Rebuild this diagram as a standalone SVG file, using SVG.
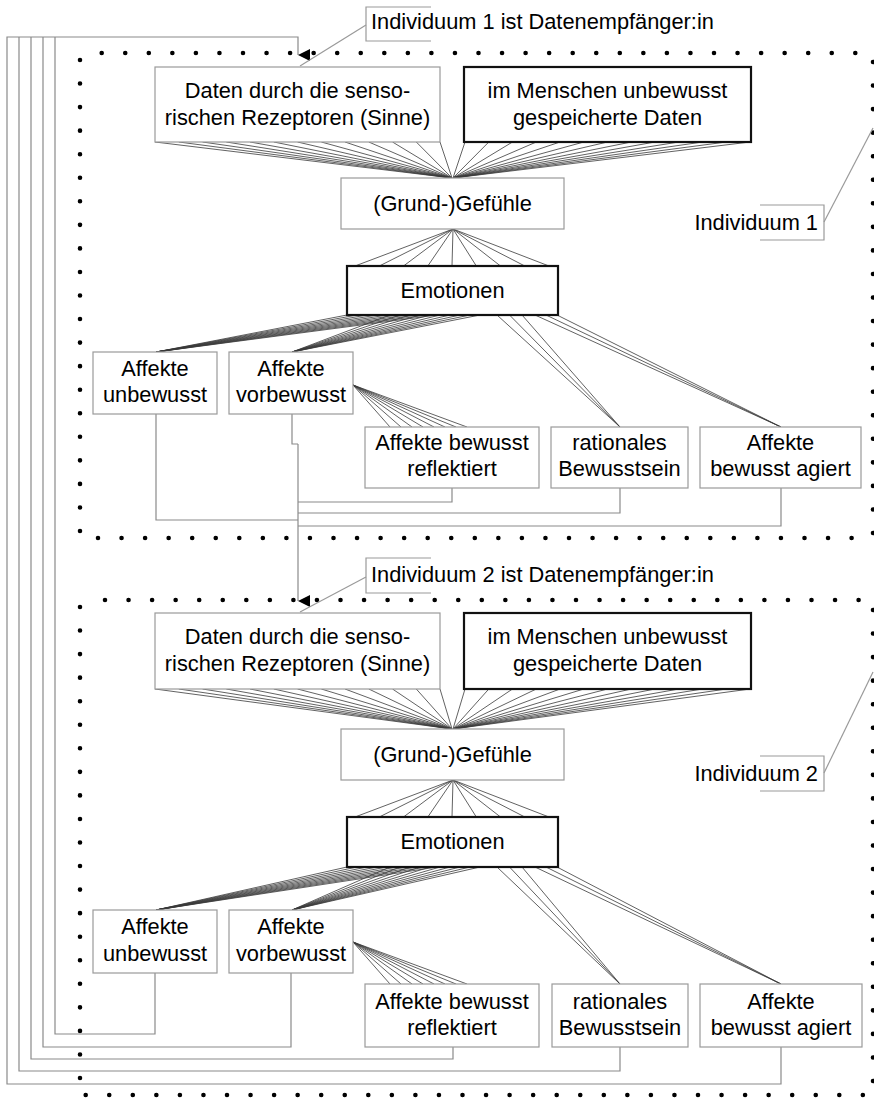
<svg xmlns="http://www.w3.org/2000/svg" width="874" height="1099" viewBox="0 0 874 1099">
<style>
text{font-family:"Liberation Sans",Arial,sans-serif;font-size:21.8px;fill:#000}
.c{text-anchor:middle}
.thin{fill:#fff;stroke:#9a9a9a;stroke-width:1.2}
.thick{fill:#fff;stroke:#111;stroke-width:2.2}
.fan{fill:none;stroke:#3a3a3a;stroke-width:0.8}
.con{fill:none;stroke:#8a8a8a;stroke-width:1.2}
.dots{fill:none;stroke:#000;stroke-width:4.6;stroke-linecap:round;stroke-dasharray:0 23.55}
.br{fill:none;stroke:#9a9a9a;stroke-width:1.2}
</style>
<defs>
<marker id="arr" markerWidth="12" markerHeight="13" refX="6" refY="12" orient="auto" markerUnits="userSpaceOnUse" viewBox="0 0 12 13">
<path d="M0,0 L12,0 L6,12 Z" fill="#000"/>
</marker>
</defs>

<g id="frames">
<path class="dots" d="M101.7,53 H862"/>
<path class="dots" d="M873,62 V537"/>
<path class="dots" d="M98,538 H862"/>
<path class="dots" d="M80,60 V534"/>
<path class="dots" d="M105,600 H862"/>
<path class="dots" d="M873,610 V1085"/>
<path class="dots" d="M85.7,1095 H866"/>
<path class="dots" d="M80,607 V1080"/>
</g>

<g id="connectors">
<path class="fan" d="M155,142L452,178M178.8,142L452,178M202.5,142L452,178M226.3,142L452,178M250,142L452,178M273.8,142L452,178M297.5,142L452,178M321.3,142L452,178M345,142L452,178M368.8,142L452,178M392.5,142L452,178M416.3,142L452,178M440,142L452,178"/>
<path class="fan" d="M465,142L453,178M488.8,142L453,178M512.5,142L453,178M536.3,142L453,178M560,142L453,178M583.8,142L453,178M607.5,142L453,178M631.3,142L453,178M655,142L453,178M678.8,142L453,178M702.5,142L453,178M726.3,142L453,178M750,142L453,178"/>
<path class="fan" d="M453,229L355,266M453,229L379.3,266M453,229L403.5,266M453,229L427.8,266M453,229L452,266M453,229L476.3,266M453,229L500.5,266M453,229L524.8,266M453,229L549,266"/>
<path class="fan" d="M347,315L156,352M357,315L156,352M367,315L156,352M377,315L156,352M387,315L156,352M397,315L156,352M407,315L156,352M417,315L156,352M427,315L156,352M437,315L156,352"/>
<path class="fan" d="M390,315L292,352M400,315L292,352M410,315L292,352M420,315L292,352M430,315L292,352M440,315L292,352M450,315L292,352M460,315L292,352M470,315L292,352M480,315L292,352"/>
<path class="fan" d="M497,315L620,427M509.5,315L620,427M522,315L620,427"/>
<path class="fan" d="M535,315L781,427M546,315L781,427M557,315L781,427"/>
<path class="fan" d="M353,385L390,427M353,385L401,427M353,385L412,427M353,385L423,427M353,385L434,427M353,385L445,427M353,385L456,427M353,385L467,427"/>
<path class="fan" d="M155,689L452,729M178.8,689L452,729M202.5,689L452,729M226.3,689L452,729M250,689L452,729M273.8,689L452,729M297.5,689L452,729M321.3,689L452,729M345,689L452,729M368.8,689L452,729M392.5,689L452,729M416.3,689L452,729M440,689L452,729"/>
<path class="fan" d="M465,689L453,729M488.8,689L453,729M512.5,689L453,729M536.3,689L453,729M560,689L453,729M583.8,689L453,729M607.5,689L453,729M631.3,689L453,729M655,689L453,729M678.8,689L453,729M702.5,689L453,729M726.3,689L453,729M750,689L453,729"/>
<path class="fan" d="M453,780L355,817M453,780L379.3,817M453,780L403.5,817M453,780L427.8,817M453,780L452,817M453,780L476.3,817M453,780L500.5,817M453,780L524.8,817M453,780L549,817"/>
<path class="fan" d="M347,867L156,910M357,867L156,910M367,867L156,910M377,867L156,910M387,867L156,910M397,867L156,910M407,867L156,910M417,867L156,910M427,867L156,910M437,867L156,910"/>
<path class="fan" d="M390,867L292,910M400,867L292,910M410,867L292,910M420,867L292,910M430,867L292,910M440,867L292,910M450,867L292,910M460,867L292,910M470,867L292,910M480,867L292,910"/>
<path class="fan" d="M497,867L620,984M509.5,867L620,984M522,867L620,984"/>
<path class="fan" d="M535,867L781,984M546,867L781,984M557,867L781,984"/>
<path class="fan" d="M353,942L390,984M353,942L401,984M353,942L412,984M353,942L423,984M353,942L434,984M353,942L445,984M353,942L456,984M353,942L467,984"/>
<path class="con" d="M156,414 V520 H298"/>
<path class="con" d="M292,414 V444 H298"/>
<path class="con" d="M452,488 V502 H298"/>
<path class="con" d="M620,488 V513 H298"/>
<path class="con" d="M781,488 V526 H298"/>
<path class="con" d="M298,444 V601" marker-end="url(#arr)"/>
<path class="con" d="M155,973 V1034 H55 V37"/>
<path class="con" d="M291,973 V1047 H43 V37"/>
<path class="con" d="M453,1047 V1059 H31 V37"/>
<path class="con" d="M620,1047 V1071 H19 V37"/>
<path class="con" d="M781,1047 V1084 H7 V37 H298 V55" marker-end="url(#arr)"/>
</g>

<g id="callout-empf1">
<path class="br" d="M431,7 H366 V41 H431"/>
<path class="br" d="M366,25 L300,66"/>
<text x="371" y="29">Individuum 1 ist Datenempfänger:in</text>
</g>
<g id="callout-ind1">
<path class="br" d="M760,205 H824 V240 H760"/>
<path class="br" d="M824,222 L873,128"/>
<text x="818" y="230" text-anchor="end">Individuum 1</text>
</g>
<g id="callout-empf2">
<path class="br" d="M431,558 H366 V593 H431"/>
<path class="br" d="M366,577 L300,612"/>
<text x="371" y="582">Individuum 2 ist Datenempfänger:in</text>
</g>
<g id="callout-ind2">
<path class="br" d="M760,756 H824 V791 H760"/>
<path class="br" d="M824,773 L873,672"/>
<text x="818" y="781" text-anchor="end">Individuum 2</text>
</g>

<g id="i1-daten"><rect class="thin" x="155" y="67" width="285" height="75"/><text class="c" x="297.5" y="98">Daten durch die senso-</text><text class="c" x="297.5" y="125">rischen Rezeptoren (Sinne)</text></g>
<g id="i1-gespeichert"><rect class="thick" x="464" y="67" width="287" height="75"/><text class="c" x="607.5" y="98">im Menschen unbewusst</text><text class="c" x="607.5" y="125">gespeicherte Daten</text></g>
<g id="i1-gefuehle"><rect class="thin" x="341" y="178" width="223" height="51"/><text class="c" x="452.5" y="211">(Grund-)Gefühle</text></g>
<g id="i1-emotionen"><rect class="thick" x="347" y="266" width="211" height="49"/><text class="c" x="452.5" y="298">Emotionen</text></g>
<g id="i1-unbewusst"><rect class="thin" x="93" y="352" width="124" height="62"/><text class="c" x="155" y="376">Affekte</text><text class="c" x="155" y="402">unbewusst</text></g>
<g id="i1-vorbewusst"><rect class="thin" x="229" y="352" width="124" height="62"/><text class="c" x="291" y="376">Affekte</text><text class="c" x="291" y="402">vorbewusst</text></g>
<g id="i1-reflektiert"><rect class="thin" x="365" y="427" width="174" height="61"/><text class="c" x="452" y="450">Affekte bewusst</text><text class="c" x="452" y="476">reflektiert</text></g>
<g id="i1-rational"><rect class="thin" x="551" y="427" width="137" height="61"/><text class="c" x="619.5" y="450">rationales</text><text class="c" x="619.5" y="476">Bewusstsein</text></g>
<g id="i1-agiert"><rect class="thin" x="700" y="427" width="161" height="61"/><text class="c" x="780.5" y="450">Affekte</text><text class="c" x="780.5" y="476">bewusst agiert</text></g>

<g id="i2-daten"><rect class="thin" x="155" y="613" width="285" height="76"/><text class="c" x="297.5" y="644">Daten durch die senso-</text><text class="c" x="297.5" y="671">rischen Rezeptoren (Sinne)</text></g>
<g id="i2-gespeichert"><rect class="thick" x="464" y="613" width="287" height="76"/><text class="c" x="607.5" y="644">im Menschen unbewusst</text><text class="c" x="607.5" y="671">gespeicherte Daten</text></g>
<g id="i2-gefuehle"><rect class="thin" x="341" y="729" width="223" height="51"/><text class="c" x="452.5" y="762">(Grund-)Gefühle</text></g>
<g id="i2-emotionen"><rect class="thick" x="347" y="817" width="211" height="50"/><text class="c" x="452.5" y="849">Emotionen</text></g>
<g id="i2-unbewusst"><rect class="thin" x="93" y="910" width="124" height="63"/><text class="c" x="155" y="934">Affekte</text><text class="c" x="155" y="961">unbewusst</text></g>
<g id="i2-vorbewusst"><rect class="thin" x="229" y="910" width="124" height="63"/><text class="c" x="291" y="934">Affekte</text><text class="c" x="291" y="961">vorbewusst</text></g>
<g id="i2-reflektiert"><rect class="thin" x="365" y="984" width="174" height="63"/><text class="c" x="452" y="1009">Affekte bewusst</text><text class="c" x="452" y="1035">reflektiert</text></g>
<g id="i2-rational"><rect class="thin" x="552" y="984" width="136" height="63"/><text class="c" x="620" y="1009">rationales</text><text class="c" x="620" y="1035">Bewusstsein</text></g>
<g id="i2-agiert"><rect class="thin" x="700" y="984" width="162" height="63"/><text class="c" x="781" y="1009">Affekte</text><text class="c" x="781" y="1035">bewusst agiert</text></g>
</svg>
